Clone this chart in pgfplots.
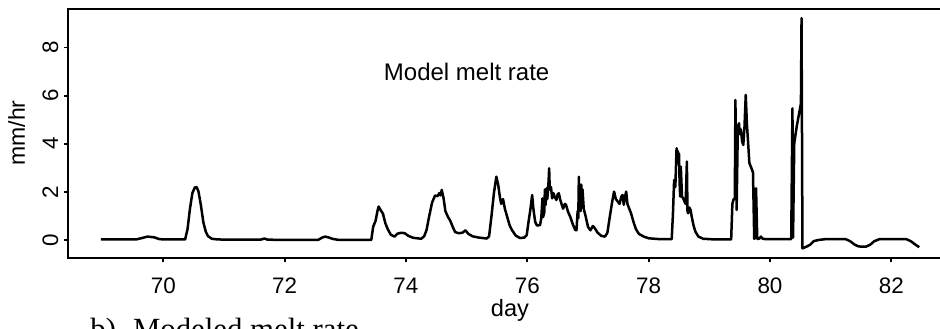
\documentclass[border=0pt]{standalone}
\usepackage{pgfplots}
\pgfplotsset{compat=1.18}
\usepackage{fontspec}
\setmainfont{Liberation Sans}
\newfontfamily\capfont{Liberation Serif}

% modelled melt rate (mm/hr) against day of year
\pgfplotstableread{
day rate
68.97 0.02
69.55 0.02
69.65 0.08
69.74 0.14
69.85 0.11
69.93 0.04
70.00 0.02
70.36 0.02
70.40 0.45
70.44 1.30
70.48 1.95
70.52 2.18
70.55 2.20
70.58 2.02
70.62 1.45
70.66 0.75
70.70 0.35
70.74 0.15
70.80 0.05
70.90 0.02
71.60 0.01
71.67 0.06
71.72 0.01
72.55 0.00
72.62 0.10
72.67 0.14
72.73 0.10
72.80 0.04
72.90 0.00
73.42 0.00
73.43 0.02
73.46 0.55
73.50 0.80
73.53 1.20
73.55 1.39
73.58 1.25
73.62 1.10
73.66 0.70
73.70 0.45
73.75 0.22
73.81 0.14
73.86 0.26
73.92 0.30
73.98 0.28
74.04 0.17
74.12 0.09
74.25 0.05
74.30 0.15
74.34 0.42
74.38 0.95
74.43 1.55
74.48 1.85
74.52 1.82
74.55 1.95
74.57 1.85
74.59 2.08
74.62 1.73
74.65 1.20
74.69 0.97
74.73 0.80
74.77 0.55
74.81 0.33
74.87 0.28
74.93 0.30
74.98 0.40
75.03 0.25
75.10 0.15
75.20 0.10
75.33 0.06
75.37 0.15
75.41 1.00
75.45 1.95
75.49 2.63
75.52 2.30
75.55 1.75
75.57 1.50
75.60 1.70
75.63 1.30
75.67 0.95
75.71 0.60
75.75 0.40
75.81 0.18
75.88 0.08
75.95 0.10
75.99 0.20
76.02 0.75
76.05 1.25
76.08 1.87
76.10 1.30
76.13 0.75
76.16 0.60
76.21 0.62
76.23 0.90
76.25 1.73
76.26 0.95
76.28 1.15
76.29 2.10
76.30 1.45
76.32 2.15
76.33 1.70
76.35 2.40
76.36 2.98
76.37 2.10
76.39 2.20
76.41 1.73
76.43 1.95
76.45 1.80
76.48 1.66
76.50 1.90
76.52 1.94
76.54 1.70
76.56 1.53
76.59 1.30
76.62 1.50
76.64 1.45
76.67 1.18
76.71 0.95
76.75 0.65
76.79 0.42
76.81 0.40
76.83 1.20
76.84 0.90
76.85 2.63
76.86 1.30
76.87 2.20
76.88 1.20
76.89 2.30
76.90 1.40
76.91 2.10
76.93 1.30
76.96 1.00
77.00 0.55
77.04 0.40
77.08 0.58
77.11 0.50
77.16 0.30
77.22 0.17
77.28 0.14
77.32 0.30
77.36 0.97
77.40 1.60
77.43 2.01
77.46 1.70
77.49 1.60
77.52 1.50
77.55 1.80
77.57 1.87
77.59 1.46
77.61 1.80
77.63 2.01
77.65 1.50
77.68 1.30
77.71 1.11
77.75 0.75
77.79 0.45
77.84 0.25
77.92 0.14
78.00 0.07
78.20 0.03
78.38 0.03
78.40 1.05
78.42 2.49
78.44 2.20
78.46 3.81
78.47 3.30
78.48 3.70
78.49 3.19
78.50 3.60
78.51 2.40
78.52 1.80
78.53 3.05
78.55 1.80
78.57 1.73
78.59 1.60
78.61 1.50
78.63 3.26
78.64 1.20
78.65 1.11
78.67 1.35
78.69 1.25
78.71 0.97
78.74 0.60
78.77 0.35
78.82 0.14
78.90 0.05
79.10 0.02
79.36 0.02
79.38 1.50
79.40 1.70
79.42 1.70
79.43 5.82
79.45 1.25
79.47 4.71
79.49 4.85
79.50 4.40
79.52 4.60
79.54 4.10
79.56 3.95
79.58 4.71
79.60 6.03
79.62 4.80
79.64 4.02
79.66 3.20
79.70 2.95
79.72 2.80
79.74 0.05
79.76 0.10
79.77 2.15
79.79 0.05
79.82 0.05
79.85 0.14
79.88 0.05
79.95 0.03
80.35 0.03
80.37 5.47
80.38 0.10
80.40 4.02
80.44 4.71
80.49 5.40
80.51 5.68
80.52 9.22
80.535 -0.35
80.60 -0.28
80.66 -0.20
80.72 -0.05
80.80 0.00
80.90 0.03
81.25 0.03
81.32 -0.05
81.40 -0.20
81.46 -0.27
81.58 -0.28
81.65 -0.20
81.72 -0.05
81.80 0.03
82.25 0.03
82.32 -0.05
82.40 -0.20
82.46 -0.30
}\meltrate

\begin{document}
\begin{tikzpicture}
% page frame: everything outside it is cut away
\path (0,0) rectangle (470pt,164pt);
\begin{scope}[overlay]
\clip (0,0) rectangle (470pt,164pt);
\begin{axis}[
  at={(34pt,35pt)}, anchor=south west,
  scale only axis, width=442pt, height=124.5pt,
  xmin=68.43, xmax=83.0, ymin=-0.75, ymax=9.6,
  xtick={70,72,...,82}, ytick={0,2,...,8},
  xtick pos=left, ytick pos=left,
  tick align=outside, major tick length=2pt,
  axis line style={line width=1.1pt},
  every tick/.style={black, line width=0.9pt},
  tick label style={font=\fontsize{11.2}{13}\selectfont},
  /pgf/number format/assume math mode=true,
  xticklabel style={anchor=north, inner sep=0pt, yshift=-7.8pt},
  yticklabel style={xshift=-3pt, rotate=90, anchor=base, inner sep=0pt},
]
\addplot[black, line width=1.25pt, line join=round] table[x=day, y=rate] {\meltrate};
\node[font=\fontsize{12}{14}\selectfont] at (axis cs:75,7) {Model melt rate};
\end{axis}
\node[rotate=90, anchor=base, inner sep=0pt, font=\fontsize{11.5}{13}\selectfont] at (12.5pt,97.5pt) {mm/hr};
\node[anchor=base, inner sep=0pt, font=\fontsize{11.8}{13}\selectfont] at (255pt,5.75pt) {day};
\node[anchor=base west, inner sep=0pt, font=\capfont\fontsize{15.4}{17}\selectfont] at (45pt,-5.5pt) {b)\hspace{8.5pt}Modeled melt rate};
\end{scope}
\end{tikzpicture}
\end{document}
